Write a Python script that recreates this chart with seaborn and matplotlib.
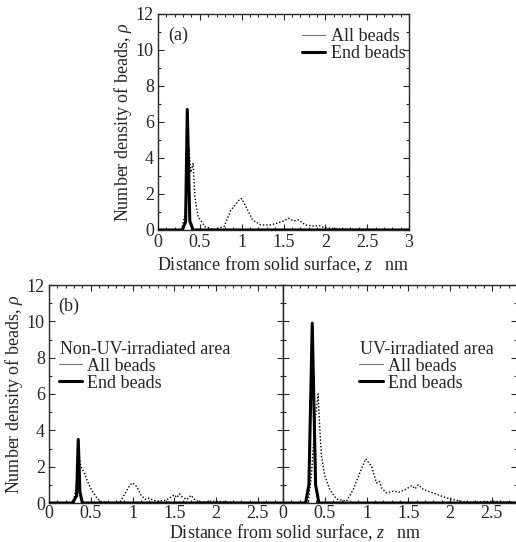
import numpy as np
import pandas as pd
import seaborn as sns
import matplotlib
matplotlib.use("Agg")
import matplotlib.pyplot as plt
from matplotlib.lines import Line2D
from matplotlib.ticker import MultipleLocator

# ---------------- data ----------------
# (a) overall
z_all_a = [0.00, 0.28, 0.32, 0.35, 0.37, 0.39, 0.42, 0.44, 0.48, 0.56, 0.67, 0.79, 0.87, 0.97,
           1.00, 1.05, 1.13, 1.23, 1.35, 1.50, 1.56, 1.62, 1.68, 1.76, 1.86, 1.92, 1.98, 2.06,
           2.30, 2.60, 3.00]
rho_all_a = [0.00, 0.00, 0.8, 3.0, 4.6, 3.2, 3.7, 1.86, 0.74, 0.19, 0.02, 0.19, 1.10, 1.67,
             1.75, 1.30, 0.56, 0.28, 0.28, 0.50, 0.65, 0.50, 0.56, 0.28, 0.22, 0.25, 0.15, 0.10,
             0.04, 0.03, 0.00]
z_end_a = [0.00, 0.29, 0.33, 0.35, 0.38, 0.42, 3.00]
rho_end_a = [0.00, 0.00, 0.45, 6.7, 0.5, 0.00, 0.00]

# (b) non-UV-irradiated area
z_all_n = [0.00, 0.29, 0.33, 0.36, 0.38, 0.42, 0.46, 0.51, 0.56, 0.61, 0.75, 0.85, 0.92, 0.97,
           1.00, 1.05, 1.10, 1.15, 1.20, 1.25, 1.30, 1.40, 1.45, 1.50, 1.53, 1.56, 1.60, 1.65,
           1.70, 1.75, 1.82, 1.95, 2.05, 2.20, 2.80]
rho_all_n = [0.00, 0.00, 1.0, 2.6, 2.0, 1.7, 1.2, 0.7, 0.35, 0.10, 0.00, 0.05, 0.6, 1.0,
             1.1, 0.9, 0.45, 0.20, 0.27, 0.15, 0.10, 0.15, 0.30, 0.45, 0.30, 0.50, 0.30, 0.20,
             0.42, 0.15, 0.05, 0.10, 0.08, 0.03, 0.00]
z_end_n = [0.00, 0.28, 0.33, 0.35, 0.37, 0.40, 2.80]
rho_end_n = [0.00, 0.00, 0.4, 3.5, 0.6, 0.00, 0.00]

# (b) UV-irradiated area
z_all_u = [0.00, 0.30, 0.34, 0.38, 0.42, 0.44, 0.46, 0.50, 0.56, 0.64, 0.76, 0.84, 0.92, 0.99,
           1.06, 1.12, 1.15, 1.18, 1.24, 1.32, 1.40, 1.48, 1.54, 1.58, 1.62, 1.68, 1.80, 1.90,
           2.00, 2.16, 2.30, 2.52, 2.80]
rho_all_u = [0.00, 0.00, 1.5, 4.4, 6.0, 4.1, 2.6, 1.5, 0.74, 0.22, 0.10, 0.74, 1.67, 2.44,
             2.0, 1.1, 1.2, 0.83, 0.55, 0.65, 0.60, 0.78, 0.96, 0.78, 1.0, 0.74, 0.55, 0.37,
             0.22, 0.07, 0.05, 0.10, 0.03]
z_end_u = [0.00, 0.27, 0.31, 0.35, 0.39, 0.43, 2.80]
rho_end_u = [0.00, 0.00, 1.0, 9.9, 1.0, 0.00, 0.00]

legend_labels = ["All beads", "End beads"]
area_titles = ["Non-UV-irradiated area", "UV-irradiated area"]

# ---------------- style ----------------
sns.set_style("ticks")
plt.rcParams["font.family"] = ["Liberation Serif", "DejaVu Serif"]
plt.rcParams["mathtext.fontset"] = "custom"
plt.rcParams["mathtext.it"] = "Liberation Serif:italic"
plt.rcParams["mathtext.rm"] = "Liberation Serif"
FS = 13

fig = plt.figure(figsize=(5.16, 5.42), dpi=100)
W, H = 516, 542
def add_ax(x0, y_top, w, h):
    return fig.add_axes([x0 / W, (H - y_top - h) / H, w / W, h / H])

ax_a = add_ax(158, 14, 251, 216)
ax_n = add_ax(49, 285, 234, 218)
ax_u = add_ax(283, 285, 234, 218)

def draw(ax, z_all, r_all, z_end, r_end, xmax, xticks):
    sns.lineplot(x=z_all, y=r_all, ax=ax, color="black", linewidth=1.0,
                 linestyle=(0, (1, 1.4)), estimator=None, sort=False, zorder=2)
    sns.lineplot(x=z_end, y=r_end, ax=ax, color="black", linewidth=2.2,
                 estimator=None, sort=False, zorder=3)
    ax.set_xlim(0, xmax)
    ax.set_ylim(0, 12)
    ax.xaxis.set_major_locator(MultipleLocator(0.5))
    ax.xaxis.set_minor_locator(MultipleLocator(0.1))
    ax.yaxis.set_major_locator(MultipleLocator(2))
    ax.yaxis.set_minor_locator(MultipleLocator(1))
    ax.set_xticks(xticks)
    ax.set_xticklabels([("%g" % t) for t in xticks])
    ax.tick_params(which="both", direction="in", top=True, right=True,
                   labelsize=FS, pad=3, width=0.8)
    ax.tick_params(which="major", length=4)
    ax.tick_params(which="minor", length=2)
    for s in ax.spines.values():
        s.set_linewidth(1.0)
        s.set_visible(True)
    ax.set_xlabel("")
    ax.set_ylabel("")

draw(ax_a, z_all_a, rho_all_a, z_end_a, rho_end_a, 3.0, [0, 0.5, 1, 1.5, 2, 2.5, 3])
draw(ax_n, z_all_n, rho_all_n, z_end_n, rho_end_n, 2.8, [0, 0.5, 1, 1.5, 2, 2.5])
draw(ax_u, z_all_u, rho_all_u, z_end_u, rho_end_u, 2.8, [0, 0.5, 1, 1.5, 2, 2.5])
ax_u.tick_params(labelleft=False)
for ax in (ax_n, ax_u):
    ax.tick_params(axis="x", pad=1.5)

ylab = r"Number density of beads, $\rho$"
ax_a.set_ylabel(ylab, fontsize=FS, labelpad=1)
ax_n.set_ylabel(ylab, fontsize=FS, labelpad=1)
ax_a.set_xlabel(r"Distance from solid surface, $z$   nm", fontsize=FS, labelpad=2)
fig.text(295 / W, 1 - 538.5 / H, r"Distance from solid surface, $z$   nm",
         fontsize=FS, ha="center", va="baseline")

ax_a.text(0.04, 0.94, "(a)", transform=ax_a.transAxes, fontsize=FS, va="top", ha="left")
ax_n.text(0.04, 0.94, "(b)", transform=ax_n.transAxes, fontsize=FS, va="top", ha="left")

handles = [Line2D([], [], color="0.45", linewidth=0.8),
           Line2D([], [], color="black", linewidth=2.2)]
leg_kw = dict(frameon=False, fontsize=FS, handlelength=1.3, handletextpad=0.3,
              labelspacing=0.0, borderpad=0.1)

ax_a.legend(handles, legend_labels, loc="upper right", bbox_to_anchor=(1.0, 0.95),
            borderaxespad=0.1, **leg_kw)

for ax, title, x0 in [(ax_n, area_titles[0], 0.045), (ax_u, area_titles[1], 0.33)]:
    ax.text(x0, 0.745, title, transform=ax.transAxes, fontsize=FS, va="top", ha="left")
    ax.legend(handles, legend_labels, loc="upper left", bbox_to_anchor=(x0 - 0.012, 0.675),
              borderaxespad=0.0, **leg_kw)

fig.savefig("out.png", dpi=100)
